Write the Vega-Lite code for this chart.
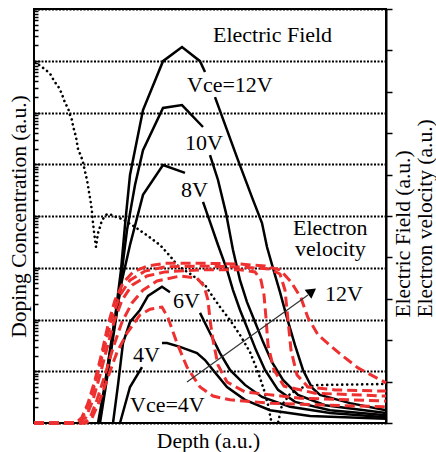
{
"$schema":"https://vega.github.io/schema/vega-lite/v6.json",
"width":352,"height":414,"autosize":"none",
"padding":{"left":34,"top":9,"right":50,"bottom":29},
"background":"white",
"config":{"font":"Liberation Serif","view":{"stroke":"black","strokeWidth":2},"axis":{"titleFont":"Liberation Serif","titleFontWeight":"normal","titleColor":"black","titleFontSize":21.5},"text":{"font":"Liberation Serif"}},
"datasets":{
"dop":[{"d":1,"c":9460000},{"d":8,"c":7570000},{"d":13,"c":6340000},{"d":17,"c":5310000},{"d":20,"c":4060000},{"d":24,"c":3250000},{"d":27,"c":2490000},{"d":29,"c":1990000},{"d":31,"c":1530000},{"d":34,"c":1220000},{"d":36,"c":895000},{"d":38,"c":716000},{"d":39,"c":548000},{"d":42,"c":336000},{"d":44,"c":197000},{"d":47,"c":144000},{"d":49,"c":110000},{"d":50,"c":88500},{"d":53,"c":49600},{"d":55,"c":29100},{"d":57,"c":17100},{"d":58,"c":11900},{"d":59,"c":7330},{"d":60,"c":4910},{"d":62,"c":2520},{"d":63,"c":3440},{"d":64,"c":4690},{"d":66,"c":6130},{"d":68,"c":8370},{"d":73,"c":10900},{"d":78,"c":10500},{"d":82,"c":9570},{"d":88,"c":8750},{"d":101,"c":6130},{"d":114,"c":4110},{"d":126,"c":2750},{"d":136,"c":1690},{"d":144,"c":1080},{"d":158,"c":724},{"d":171,"c":464},{"d":179,"c":272},{"d":186,"c":175},{"d":196,"c":97.8},{"d":206,"c":50.2},{"d":216,"c":23.5},{"d":224,"c":9.68},{"d":230,"c":4.34},{"d":234,"c":2.23},{"d":237,"c":1.14},{"d":240,"c":1},{"d":244,"c":1},{"d":248,"c":2.23},{"d":256,"c":3.64},{"d":266,"c":4.75},{"d":284,"c":5.42},{"d":352,"c":5.67}],
"ef":[
{"k":"12a","d":64,"v":0},{"k":"12a","d":70,"v":0.8},{"k":"12a","d":76,"v":1.76},{"k":"12a","d":82,"v":2.73},{"k":"12a","d":87,"v":3.7},{"k":"12a","d":91,"v":4.78},{"k":"12a","d":96,"v":5.99},{"k":"12a","d":109,"v":7.56},{"k":"12a","d":129,"v":8.74},{"k":"12a","d":148,"v":9.08},{"k":"12a","d":166,"v":8.74},{"k":"12a","d":171,"v":8.48},
{"k":"12b","d":181,"v":7.87},{"k":"12b","d":204,"v":6.35},{"k":"12b","d":219,"v":5.39},{"k":"12b","d":228,"v":4.83},{"k":"12b","d":233,"v":4.25},{"k":"12b","d":239,"v":3.74},{"k":"12b","d":246,"v":3.16},{"k":"12b","d":253,"v":2.54},{"k":"12b","d":261,"v":1.88},{"k":"12b","d":269,"v":1.28},{"k":"12b","d":278,"v":0.85},{"k":"12b","d":286,"v":0.68},{"k":"12b","d":316,"v":0.48},{"k":"12b","d":352,"v":0.31},
{"k":"10a","d":66,"v":0},{"k":"10a","d":72,"v":0.92},{"k":"10a","d":78,"v":1.88},{"k":"10a","d":84,"v":2.85},{"k":"10a","d":89,"v":3.89},{"k":"10a","d":93,"v":4.66},{"k":"10a","d":101,"v":5.75},{"k":"10a","d":109,"v":6.59},{"k":"10a","d":129,"v":7.61},{"k":"10a","d":148,"v":7.68},{"k":"10a","d":169,"v":7.15},
{"k":"10b","d":176,"v":6.47},{"k":"10b","d":184,"v":5.87},{"k":"10b","d":192,"v":5.07},{"k":"10b","d":199,"v":4.18},{"k":"10b","d":206,"v":3.45},{"k":"10b","d":213,"v":2.92},{"k":"10b","d":221,"v":2.44},{"k":"10b","d":229,"v":1.96},{"k":"10b","d":238,"v":1.47},{"k":"10b","d":249,"v":1.04},{"k":"10b","d":264,"v":0.68},{"k":"10b","d":291,"v":0.43},{"k":"10b","d":352,"v":0.24},
{"k":"8a","d":65,"v":0},{"k":"8a","d":71,"v":0.92},{"k":"8a","d":77,"v":1.88},{"k":"8a","d":83,"v":2.73},{"k":"8a","d":88,"v":3.45},{"k":"8a","d":96,"v":4.3},{"k":"8a","d":109,"v":5.51},{"k":"8a","d":129,"v":6.23},{"k":"8a","d":151,"v":6.04},
{"k":"8b","d":169,"v":5.34},{"k":"8b","d":176,"v":4.86},{"k":"8b","d":184,"v":4.3},{"k":"8b","d":193,"v":3.7},{"k":"8b","d":199,"v":3.21},{"k":"8b","d":206,"v":2.73},{"k":"8b","d":214,"v":2.25},{"k":"8b","d":222,"v":1.76},{"k":"8b","d":231,"v":1.28},{"k":"8b","d":244,"v":0.8},{"k":"8b","d":261,"v":0.51},{"k":"8b","d":296,"v":0.31},{"k":"8b","d":352,"v":0.19},
{"k":"6a","d":79,"v":0},{"k":"6a","d":84,"v":0.92},{"k":"6a","d":89,"v":1.93},{"k":"6a","d":96,"v":2.44},{"k":"6a","d":106,"v":2.73},{"k":"6a","d":114,"v":3.07},{"k":"6a","d":128,"v":3.29},{"k":"6a","d":136,"v":3.16},
{"k":"6b","d":166,"v":2.66},{"k":"6b","d":173,"v":2.32},{"k":"6b","d":186,"v":1.69},{"k":"6b","d":196,"v":1.28},{"k":"6b","d":211,"v":0.92},{"k":"6b","d":228,"v":0.63},{"k":"6b","d":256,"v":0.39},{"k":"6b","d":296,"v":0.24},{"k":"6b","d":352,"v":0.14},
{"k":"4a","d":86,"v":0},{"k":"4a","d":96,"v":0.87},{"k":"4a","d":108,"v":1.35},
{"k":"4b","d":128,"v":1.93},{"k":"4b","d":133,"v":1.93},{"k":"4b","d":146,"v":1.84},{"k":"4b","d":163,"v":1.69},{"k":"4b","d":171,"v":1.52},{"k":"4b","d":179,"v":1.28},{"k":"4b","d":193,"v":0.87},{"k":"4b","d":211,"v":0.56},{"k":"4b","d":236,"v":0.31},{"k":"4b","d":276,"v":0.17},{"k":"4b","d":352,"v":0.1}],
"vel":[
{"s":"12","d":0,"v":0},{"s":"12","d":42,"v":0},{"s":"12","d":48,"v":0.14},{"s":"12","d":54,"v":0.48},{"s":"12","d":61,"v":1.04},{"s":"12","d":68,"v":1.71},{"s":"12","d":74,"v":2.37},{"s":"12","d":81,"v":2.97},{"s":"12","d":89,"v":3.38},{"s":"12","d":99,"v":3.65},{"s":"12","d":113,"v":3.79},{"s":"12","d":131,"v":3.86},{"s":"12","d":166,"v":3.86},{"s":"12","d":206,"v":3.84},{"s":"12","d":231,"v":3.79},{"s":"12","d":246,"v":3.7},{"s":"12","d":257,"v":3.41},{"s":"12","d":267,"v":3.02},{"s":"12","d":274,"v":2.54},{"s":"12","d":284,"v":2.13},{"s":"12","d":304,"v":1.71},{"s":"12","d":324,"v":1.33},{"s":"12","d":352,"v":0.97},
{"s":"10","d":0,"v":0},{"s":"10","d":44,"v":0},{"s":"10","d":50,"v":0.19},{"s":"10","d":57,"v":0.6},{"s":"10","d":64,"v":1.23},{"s":"10","d":71,"v":1.88},{"s":"10","d":78,"v":2.54},{"s":"10","d":86,"v":3.09},{"s":"10","d":96,"v":3.45},{"s":"10","d":111,"v":3.67},{"s":"10","d":131,"v":3.77},{"s":"10","d":166,"v":3.79},{"s":"10","d":206,"v":3.77},{"s":"10","d":236,"v":3.72},{"s":"10","d":246,"v":3.6},{"s":"10","d":251,"v":3.21},{"s":"10","d":254,"v":2.49},{"s":"10","d":257,"v":1.76},{"s":"10","d":263,"v":1.16},{"s":"10","d":274,"v":0.87},{"s":"10","d":301,"v":0.8},{"s":"10","d":352,"v":0.77},
{"s":"8","d":0,"v":0},{"s":"8","d":46,"v":0},{"s":"8","d":52,"v":0.14},{"s":"8","d":59,"v":0.56},{"s":"8","d":66,"v":1.16},{"s":"8","d":73,"v":1.81},{"s":"8","d":80,"v":2.44},{"s":"8","d":88,"v":2.97},{"s":"8","d":98,"v":3.33},{"s":"8","d":113,"v":3.55},{"s":"8","d":131,"v":3.65},{"s":"8","d":166,"v":3.7},{"s":"8","d":206,"v":3.7},{"s":"8","d":221,"v":3.65},{"s":"8","d":227,"v":3.45},{"s":"8","d":230,"v":3.09},{"s":"8","d":232,"v":2.54},{"s":"8","d":234,"v":1.88},{"s":"8","d":240,"v":1.28},{"s":"8","d":250,"v":0.89},{"s":"8","d":281,"v":0.72},{"s":"8","d":352,"v":0.65},
{"s":"6","d":0,"v":0},{"s":"6","d":50,"v":0},{"s":"6","d":56,"v":0.12},{"s":"6","d":63,"v":0.56},{"s":"6","d":71,"v":1.16},{"s":"6","d":79,"v":1.81},{"s":"6","d":88,"v":2.44},{"s":"6","d":98,"v":2.9},{"s":"6","d":109,"v":3.21},{"s":"6","d":123,"v":3.43},{"s":"6","d":146,"v":3.55},{"s":"6","d":163,"v":3.5},{"s":"6","d":170,"v":3.31},{"s":"6","d":174,"v":2.97},{"s":"6","d":176,"v":2.49},{"s":"6","d":179,"v":2.0},{"s":"6","d":184,"v":1.4},{"s":"6","d":193,"v":0.99},{"s":"6","d":211,"v":0.75},{"s":"6","d":266,"v":0.6},{"s":"6","d":352,"v":0.53},
{"s":"4","d":0,"v":0},{"s":"4","d":52,"v":0},{"s":"4","d":58,"v":0.12},{"s":"4","d":66,"v":0.56},{"s":"4","d":74,"v":1.11},{"s":"4","d":83,"v":1.71},{"s":"4","d":93,"v":2.17},{"s":"4","d":106,"v":2.61},{"s":"4","d":116,"v":2.75},{"s":"4","d":128,"v":2.8},{"s":"4","d":134,"v":2.54},{"s":"4","d":143,"v":1.93},{"s":"4","d":153,"v":1.35},{"s":"4","d":166,"v":0.87},{"s":"4","d":179,"v":0.65},{"s":"4","d":196,"v":0.56},{"s":"4","d":236,"v":0.48},{"s":"4","d":296,"v":0.43},{"s":"4","d":352,"v":0.39}],
"arrow":[{"d":153,"v":0.99,"d2":274,"v2":3.09}],
"head":[{"d":278,"v":3.18}],
"lab":[{"t":"Electric Field","d":179,"v":9.2},{"t":"Vce=12V","d":153,"v":8.0},{"t":"10V","d":151,"v":6.59},{"t":"8V","d":147,"v":5.46},{"t":"Electron","d":259,"v":4.55},{"t":"velocity","d":261,"v":4.03},{"t":"12V","d":291,"v":2.95},{"t":"6V","d":139,"v":2.78},{"t":"4V","d":99,"v":1.47},{"t":"Vce=4V","d":96,"v":0.27}]
},
"encoding":{"x":{"field":"d","type":"quantitative","scale":{"domain":[0,352],"nice":false,"zero":false},"axis":{"title":"Depth (a.u.)","orient":"bottom","labels":false,"ticks":false,"domain":false,"grid":false,"titleX":174,"titleY":24,"titleAlign":"center","titleBaseline":"alphabetic"}}},
"layer":[
{"data":{"name":"dop"},"mark":{"type":"line","color":"black","strokeWidth":2.6,"strokeDash":[0.1,4.9],"strokeCap":"round","clip":true},
"encoding":{"y":{"field":"c","type":"quantitative","scale":{"type":"log","domain":[1,100000000],"nice":false},
"axis":{"orient":"left","title":"Doping Concentration (a.u.)","values":[1,2,3,4,5,6,7,8,9,10,20,30,40,50,60,70,80,90,100,200,300,400,500,600,700,800,900,1000,2000,3000,4000,5000,6000,7000,8000,9000,10000,20000,30000,40000,50000,60000,70000,80000,90000,100000,200000,300000,400000,500000,600000,700000,800000,900000,1000000,2000000,3000000,4000000,5000000,6000000,7000000,8000000,9000000,10000000,20000000,30000000,40000000,50000000,60000000,70000000,80000000,90000000,100000000],
"labels":false,"domain":false,"ticks":true,"tickColor":"black","tickWidth":1.5,
"tickSize":{"condition":{"test":"abs(log(datum.value)/LN10 - round(log(datum.value)/LN10)) < 0.001","value":-6},"value":-4},
"grid":true,"gridColor":"black","gridDash":[2,1.5],"gridWidth":2,
"gridOpacity":{"condition":{"test":"abs(log(datum.value)/LN10 - round(log(datum.value)/LN10)) < 0.001","value":1},"value":0},
"titleAngle":270,"titleX":-9,"titleY":207,"titleAlign":"center","titleBaseline":"alphabetic"}}}},
{"encoding":{"y":{"field":"v","type":"quantitative","scale":{"domain":[0,10],"nice":false,"zero":false},
"axis":{"orient":"right","values":[0,1,2,3,4,5,6,7,8,9,10],"labels":false,"grid":false,"domain":true,"domainColor":"black","domainWidth":2,"tickColor":"black","tickSize":6,"tickWidth":1.5,
"title":["Electric Field (a.u.)","Electron velocity (a.u.)"],"titleFontSize":21.5,"titleAngle":270,"titleAlign":"left","titleBaseline":"alphabetic","titleX":23,"titleY":308,"titleLineHeight":22}}},
"layer":[
{"data":{"name":"ef"},"mark":{"type":"line","color":"black","strokeWidth":2.5},"encoding":{"detail":{"field":"k","type":"nominal"}}},
{"data":{"name":"vel"},"mark":{"type":"line","color":"#ee3030","strokeWidth":3,"strokeDash":[10,5]},"encoding":{"detail":{"field":"s","type":"nominal"}}},
{"data":{"name":"arrow"},"mark":{"type":"rule","color":"#333333","strokeWidth":1.2},"encoding":{"x2":{"field":"d2"},"y2":{"field":"v2"}}},
{"data":{"name":"head"},"mark":{"type":"point","shape":"triangle-up","filled":true,"color":"black","size":130,"angle":54,"opacity":1}},
{"data":{"name":"lab"},"mark":{"type":"text","align":"left","baseline":"alphabetic","fontSize":22,"color":"black","font":"Liberation Serif"},"encoding":{"text":{"field":"t","type":"nominal"}}}
]}
],
"resolve":{"scale":{"y":"independent"},"axis":{"y":"independent"}}
}
